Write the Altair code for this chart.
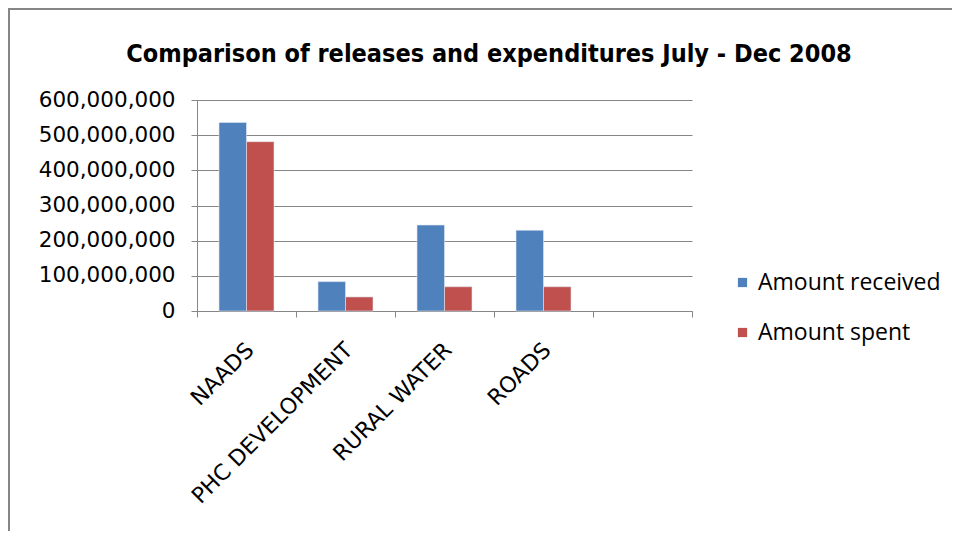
import altair as alt
import pandas as pd

categories = ["NAADS", "PHC DEVELOPMENT", "RURAL WATER", "ROADS", " "]
series = ["Amount received", "Amount spent"]
received = [536000000, 83500000, 244500000, 229500000]
spent = [481500000, 40000000, 69000000, 69000000]
colors = ["#4F81BD", "#C0504D"]
title_text = "Comparison of releases  and expenditures July - Dec 2008"

rows = []
for c, r, s in zip(categories[:4], received, spent):
    rows.append({"category": c, "series": series[0], "value": r})
    rows.append({"category": c, "series": series[1], "value": s})
df = pd.DataFrame(rows)

W, H = 495, 211
PL, PT = 189, 92
TW, TH = 944, 523

bars = alt.Chart(df).mark_bar(stroke="#dfe6f0", strokeWidth=0.6).encode(
    x=alt.X("category:N", sort=categories,
            scale=alt.Scale(domain=categories, paddingInner=0, paddingOuter=0),
            axis=alt.Axis(title=None, labelAngle=315, labelFont="DejaVu Sans",
                          labelFontSize=22, labelColor="#000000", labelPadding=22,
                          labelOffset=-4, labelLimit=0,
                          tickBand="extent", tickSize=6, tickColor="#868686",
                          domainColor="#868686", grid=False)),
    xOffset=alt.XOffset("series:N", sort=series,
                        scale=alt.Scale(paddingInner=0, paddingOuter=0.8)),
    y=alt.Y("value:Q", scale=alt.Scale(domain=[0, 600000000], nice=False),
            axis=alt.Axis(title=None, format=",d", values=[0, 100000000, 200000000, 300000000, 400000000, 500000000, 600000000],
                          labelFont="DejaVu Sans", labelFontSize=21.5, labelColor="#000000",
                          labelPadding=16, tickSize=6, tickColor="#868686",
                          domainColor="#868686", gridColor="#868686", gridWidth=1)),
    color=alt.Color("series:N", sort=series,
                    scale=alt.Scale(domain=series, range=colors),
                    legend=alt.Legend(title=None, orient="none", legendX=534, legendY=171,
                                      symbolType="square", symbolSize=85, symbolStrokeWidth=0,
                                      labelFont="Open Sans", labelFontSize=23, labelColor="#000000",
                                      labelLimit=0, rowPadding=26, labelOffset=4)),
)

left_line = alt.Chart(pd.DataFrame({"k": [0]})).mark_rule(
    color="#868686", strokeWidth=2
).encode(x=alt.value(-188), y=alt.value(-92), y2=alt.value(H + 400))

top_line = alt.Chart(pd.DataFrame({"k": [0]})).mark_rule(
    color="#868686", strokeWidth=2
).encode(y=alt.value(-91), x=alt.value(-189), x2=alt.value(W + 400))

title = alt.Chart(pd.DataFrame({"t": [title_text]})).mark_text(
    font="DejaVu Sans Condensed, Liberation Sans", fontSize=25, fontWeight="bold",
    color="#000000", align="center", baseline="alphabetic"
).encode(text="t:N", x=alt.value(292), y=alt.value(-38))

chart = alt.layer(left_line, top_line, bars, title).properties(
    width=W, height=H,
    autosize=alt.AutoSizeParams(type="none"),
    padding={"left": PL, "top": PT, "right": TW - PL - W, "bottom": TH - PT - H},
).configure_view(stroke=None)

chart.save("out.html", embed_options={"renderer": "svg", "actions": False})
